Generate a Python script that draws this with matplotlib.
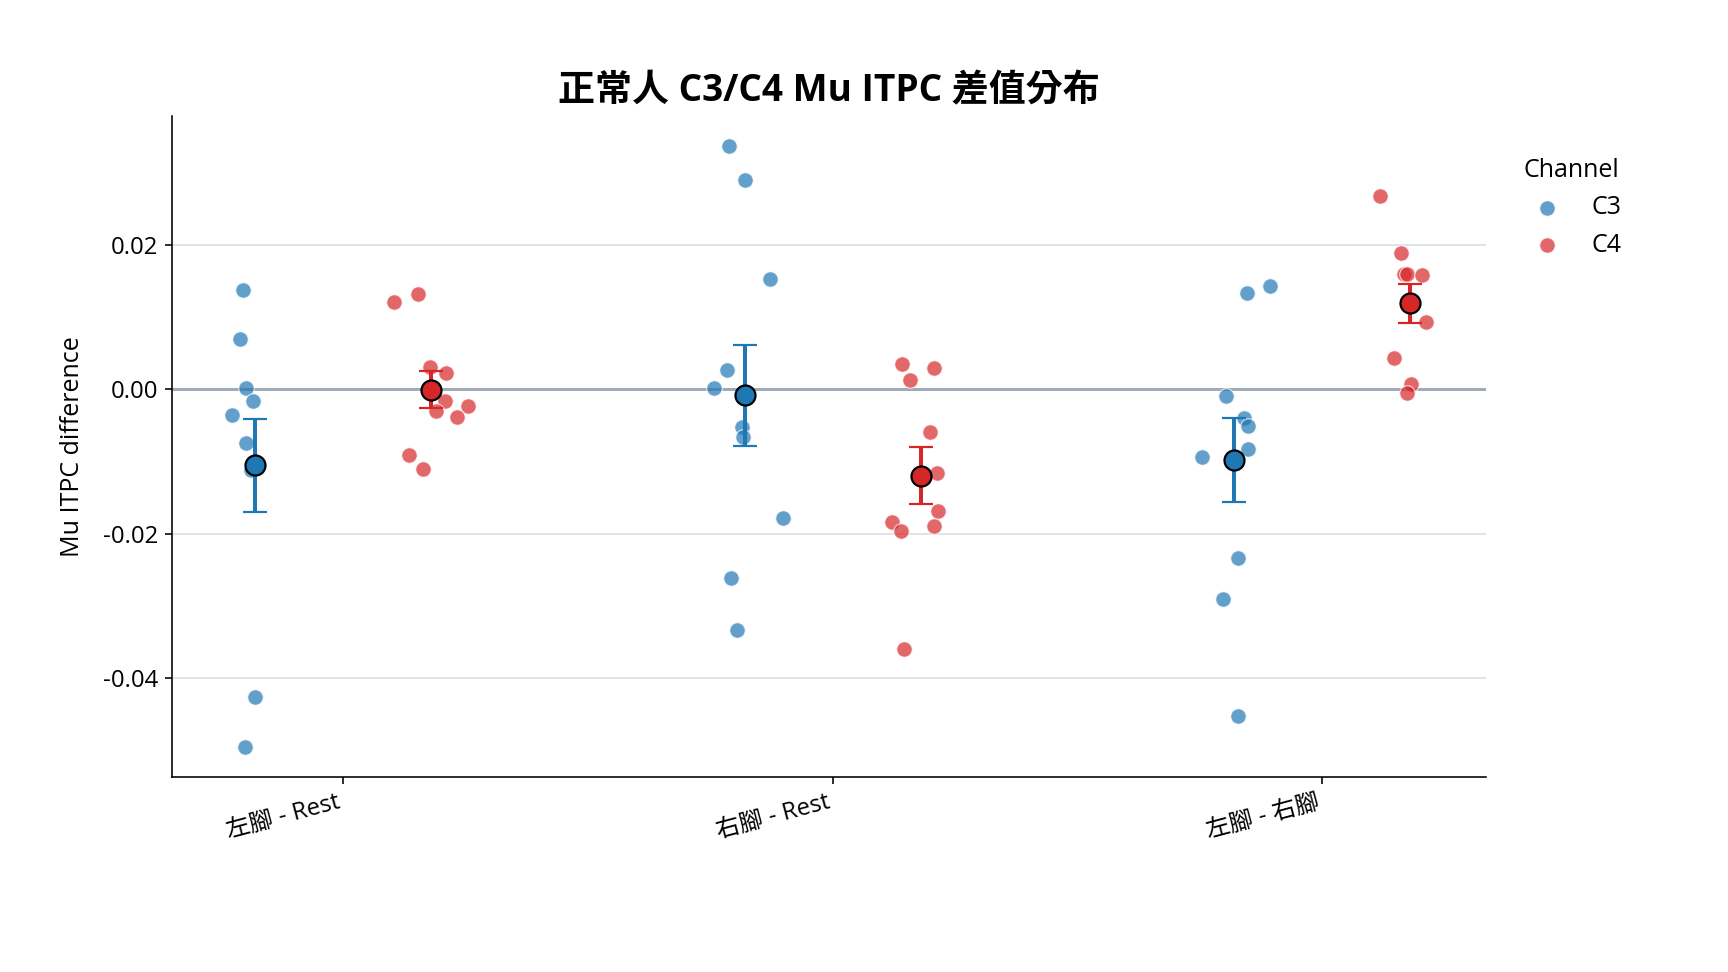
import numpy as np
import matplotlib
matplotlib.use("Agg")
import matplotlib.pyplot as plt

plt.rcParams['font.family'] = ['Open Sans', 'Noto Sans CJK TC', 'DejaVu Sans']
plt.rcParams['axes.unicode_minus'] = False

# ---------------- data ----------------
categories = ['左腳 - Rest', '右腳 - Rest', '左腳 - 右腳']
channels = ['C3', 'C4']

c3_values = [
    [0.0137, 0.0070, 0.0001, -0.0016, -0.0036, -0.0074, -0.0112, -0.0103, -0.0427, -0.0495],
    [0.0337, 0.0290, 0.0152, 0.0026, 0.0002, -0.0053, -0.0066, -0.0179, -0.0261, -0.0333],
    [0.0143, 0.0133, -0.0010, -0.0040, -0.0051, -0.0083, -0.0094, -0.0234, -0.0291, -0.0453],
]
c4_values = [
    [0.0120, 0.0131, 0.0031, 0.0022, -0.0017, -0.0031, -0.0024, -0.0038, -0.0091, -0.0110],
    [0.0035, 0.0013, 0.0029, -0.0060, -0.0116, -0.0169, -0.0189, -0.0184, -0.0197, -0.0360],
    [0.0268, 0.0189, 0.0159, 0.0159, 0.0158, 0.0093, 0.0043, 0.0007, -0.0005, 0.0118],
]
# horizontal jitter of each point (category units)
c3_jitter = [
    [-0.024, -0.030, -0.018, -0.005, -0.048, -0.018, -0.009, -0.002, -0.001, -0.020],
    [-0.031, 0.000, 0.051, -0.035, -0.063, -0.006, -0.004, 0.078, -0.027, -0.016],
    [0.074, 0.027, -0.016, 0.020, 0.029, 0.029, -0.065, 0.008, -0.022, 0.009],
]
c4_jitter = [
    [-0.076, -0.027, -0.003, 0.030, 0.027, 0.010, 0.074, 0.053, -0.045, -0.017],
    [-0.038, -0.022, 0.027, 0.019, 0.033, 0.035, 0.027, -0.059, -0.040, -0.034],
    [-0.061, -0.018, -0.013, -0.006, 0.025, 0.033, -0.033, 0.001, -0.007, -0.005],
]

series = {'C3': (c3_values, c3_jitter), 'C4': (c4_values, c4_jitter)}
colors = {'C3': '#1f77b4', 'C4': '#d62728'}
dodge = {'C3': -0.18, 'C4': 0.18}

# ---------------- figure ----------------
fig = plt.figure(figsize=(12, 6.75), dpi=144)
ax = fig.add_axes([0.0995, 0.201, 0.7605, 0.680])

ax.yaxis.grid(True, color='#dde4ec', linewidth=1.0, zorder=0)
ax.set_axisbelow(True)
ax.axhline(0, color='#a0abb8', linewidth=1.5, zorder=1)

for ch in channels:
    vals, jit = series[ch]
    for i, (v, j) in enumerate(zip(vals, jit)):
        v = np.asarray(v)
        x = i + dodge[ch] + np.asarray(j)
        ax.scatter(x, v, s=60, color=colors[ch], alpha=0.7, edgecolors='white',
                   linewidths=0.6, zorder=2, label=ch if i == 0 else None)
        m = v.mean()
        sem = v.std(ddof=1) / np.sqrt(len(v))
        ax.errorbar(i + dodge[ch], m, yerr=sem, fmt='o', color=colors[ch],
                    ecolor=colors[ch], elinewidth=2, capsize=6, capthick=1.2,
                    markersize=10, markeredgecolor='black', markeredgewidth=1.1,
                    zorder=4)

ax.set_xticks(range(len(categories)))
ax.set_xticklabels(categories, rotation=15, ha='right', fontsize=12)
ax.tick_params(axis='y', labelsize=12)
ax.yaxis.set_major_formatter(matplotlib.ticker.FormatStrFormatter('%.2f'))
ax.set_yticks([-0.04, -0.02, 0.0, 0.02])
ax.set_ylabel('Mu ITPC difference', fontsize=12.5, labelpad=9)
ax.set_title('正常人 C3/C4 Mu ITPC 差值分布', fontsize=18.5, fontweight='bold', pad=7)

for sp in ['top', 'right']:
    ax.spines[sp].set_visible(False)

leg = ax.legend(title='Channel', loc='upper left', bbox_to_anchor=(1.01, 0.97),
                frameon=False, fontsize=12.5, title_fontsize=12.5, labelspacing=0.5)

fig.savefig('out.png', dpi=144)
